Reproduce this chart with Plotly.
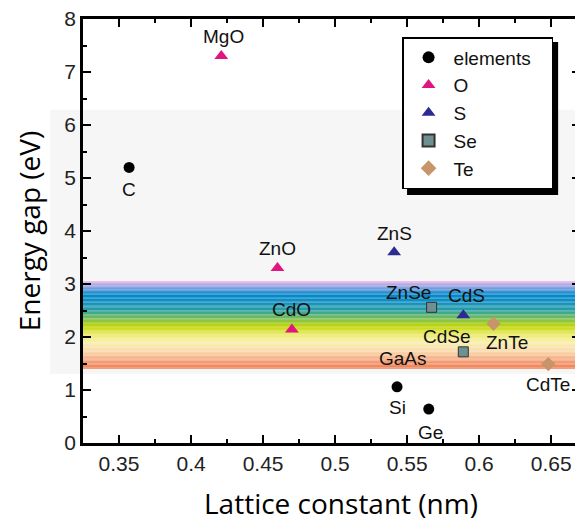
import plotly.graph_objects as go

# ---- data ----
elem_names = ["C", "Si", "Ge"]
elem_x = [0.357, 0.543, 0.565]
elem_y = [5.2, 1.06, 0.64]

o_names = ["MgO", "ZnO", "CdO"]
o_x = [0.421, 0.460, 0.470]
o_y = [7.3, 3.3, 2.14]

s_names = ["ZnS", "CdS"]
s_x = [0.541, 0.589]
s_y = [3.6, 2.41]

se_names = ["ZnSe", "CdSe"]
se_x = [0.567, 0.589]
se_y = [2.56, 1.72]

te_names = ["ZnTe", "CdTe"]
te_x = [0.610, 0.648]
te_y = [2.25, 1.49]

gaas_name = ["GaAs"]
gaas_x = [0.566]
gaas_y = [1.40]

x_ticks = [0.35, 0.4, 0.45, 0.5, 0.55, 0.6, 0.65]
x_ticklabels = ["0.35", "0.4", "0.45", "0.5", "0.55", "0.6", "0.65"]
y_ticks = [0, 1, 2, 3, 4, 5, 6, 7, 8]

x_title = "Lattice constant (nm)"
y_title = "Energy gap (eV)"

# visible-spectrum band (decoration)
band_lo, band_hi = 1.40, 3.05
grad_stops = [
    (1.40, (238, 125, 80)),
    (1.55, (246, 160, 120)),
    (1.72, (250, 215, 170)),
    (1.90, (250, 240, 175)),
    (2.05, (235, 235, 110)),
    (2.20, (195, 215, 10)),
    (2.35, (120, 190, 80)),
    (2.50, (40, 160, 160)),
    (2.65, (20, 145, 195)),
    (2.80, (0, 135, 200)),
    (2.92, (120, 160, 225)),
    (3.05, (235, 180, 230)),
]

label_offsets = {
    "C": (0, -22), "Si": (0, -21), "Ge": (2, -23),
    "MgO": (2, 20), "ZnO": (0, 20), "CdO": (0, 20),
    "ZnS": (0, 19), "CdS": (3, 20),
    "ZnSe": (-23, 15), "CdSe": (-16, 15),
    "ZnTe": (13, -19), "CdTe": (0, -20),
    "GaAs": (-27, 10),
}

fig = go.Figure()

series = [
    ("elements\u00a0\u00a0\u00a0", elem_x, elem_y, dict(symbol="circle", size=11, color="black")),
    ("O", o_x, o_y, dict(symbol="triangle-up", size=12, color="#e0157f")),
    ("S", s_x, s_y, dict(symbol="triangle-up", size=12, color="#2d2a90")),
    ("Se", se_x, se_y, dict(symbol="square", size=10, color="#6f9090",
                            line=dict(color="#333333", width=1))),
    ("Te", te_x, te_y, dict(symbol="diamond", size=11, color="#c8946a")),
]
for name, xs, ys, mk in series:
    fig.add_trace(go.Scatter(x=xs, y=ys, mode="markers", name=name, marker=mk))

annotations = []
all_names = elem_names + o_names + s_names + se_names + te_names + gaas_name
all_x = elem_x + o_x + s_x + se_x + te_x + gaas_x
all_y = elem_y + o_y + s_y + se_y + te_y + gaas_y
for n, xv, yv in zip(all_names, all_x, all_y):
    dx, dy = label_offsets[n]
    annotations.append(dict(x=xv, y=yv, text=n, showarrow=False, xshift=dx, yshift=dy,
                            font=dict(family="Liberation Sans, Arial", size=19, color="#111111")))
# x axis title (slightly right of centre, as in the original)
annotations.append(dict(x=0.519, y=0, xref="paper", yref="paper", text=x_title, showarrow=False,
                        xanchor="center", yanchor="middle", yshift=-60,
                        font=dict(family="Open Sans", size=28, color="black")))

shapes = []
# light gray background band
shapes.append(dict(type="rect", xref="paper", yref="y", x0=-0.066, x1=1.0, y0=1.30, y1=6.29,
                   fillcolor="#f6f6f6", line=dict(width=0), layer="below"))
# gradient strips
n_strips = 66
def interp(v):
    for (a, ca), (b, cb) in zip(grad_stops[:-1], grad_stops[1:]):
        if a <= v <= b:
            t = (v - a) / (b - a)
            return tuple(int(round(ca[i] + (cb[i] - ca[i]) * t)) for i in range(3))
    return grad_stops[-1][1]
step = (band_hi - band_lo) / n_strips
for i in range(n_strips):
    y0 = band_lo + i * step
    c = interp(y0 + step / 2)
    shapes.append(dict(type="rect", xref="x domain", yref="y", x0=0, x1=1, y0=y0, y1=y0 + step * 1.05,
                       fillcolor="rgb(%d,%d,%d)" % c, line=dict(width=0), layer="below"))
# legend shadow
shapes.append(dict(type="rect", xref="paper", yref="paper", x0=0.652, x1=0.956, y0=0.585, y1=0.946,
                   fillcolor="black", line=dict(width=0), layer="above"))

axis_common = dict(showline=True, linecolor="black", linewidth=2.5, mirror="allticks",
                   ticks="inside", ticklen=8, tickwidth=2, tickcolor="black",
                   showgrid=False, zeroline=False, ticklabeloverflow="allow",
                   tickfont=dict(family="Liberation Sans, Arial", size=21, color="#222"))

fig.update_layout(
    width=575, height=513,
    margin=dict(l=75, r=3, t=11, b=78),
    plot_bgcolor="rgba(0,0,0,0)", paper_bgcolor="white",
    showlegend=True,
    legend=dict(x=0.642, y=0.9575, xanchor="left", yanchor="top",
                bgcolor="white", bordercolor="black", borderwidth=1.5,
                font=dict(family="Liberation Sans, Arial", size=19, color="#111"),
                itemsizing="constant", tracegroupgap=0, itemwidth=40),
    xaxis=dict(range=[0.325, 0.67], tickvals=x_ticks, ticktext=x_ticklabels, automargin=False,
               minor=dict(ticks="inside", ticklen=4, tickwidth=2, tickcolor="black", dtick=0.025,
                          tick0=0.325),
               **axis_common),
    yaxis=dict(range=[0, 8], tickvals=y_ticks, automargin="left",
               minor=dict(ticks="inside", ticklen=4, tickwidth=2, tickcolor="black", dtick=0.5),
               title=dict(text=y_title, font=dict(family="Open Sans", size=28, color="black"),
                          standoff=16),
               **axis_common),
    shapes=shapes,
    annotations=annotations,
)

fig.write_html("out.html")
